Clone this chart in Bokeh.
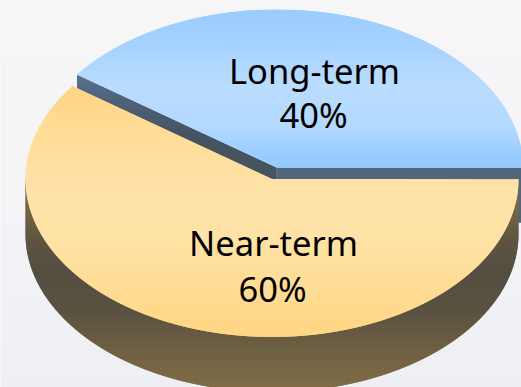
import math
import numpy as np
from bokeh.core.properties import value
from bokeh.embed import file_html
from bokeh.models import ColumnDataSource, Range1d
from bokeh.plotting import figure
from bokeh.resources import INLINE

# Chart data
terms = ["Long-term", "Near-term"]
shares = [40, 60]

# Tilted-disc geometry, in page pixels
WIDTH, HEIGHT = 521, 387
RX, RY = 246.5, 158.0
NEAR_CENTRE = (271.5, 178.5)
LONG_CENTRE = (276.0, 167.0)
DEPTH = 55.0

# Vertical colour ramps: (row, colour)
LONG_TOP = [(10, "#99ccff"), (45, "#a6d2ff"), (85, "#badcff"), (125, "#b4d9ff"), (155, "#99ccff"), (167, "#96caff")]
NEAR_TOP = [(85, "#ffd484"), (130, "#ffdc97"), (190, "#ffe2a8"), (235, "#ffe2a6"), (290, "#ffdc94"), (337, "#ffd580")]
NEAR_WALL = [(178, "#8a7549"), (205, "#7a6845"), (240, "#5e5540"), (270, "#554e40"), (310, "#5a5240"), (350, "#6f6143"), (388, "#816c46")]
LONG_FACE = [(75, "#587494"), (100, "#4f6278"), (135, "#465462"), (178, "#475460")]
LONG_EAST = [(167, "#526780"), (222, "#4f657f")]


def ramp(stops, y):
    rows = [s[0] for s in stops]
    rgb = [[int(s[1][i:i + 2], 16) for i in (1, 3, 5)] for s in stops]
    return "#%02x%02x%02x" % tuple(int(round(np.interp(y, rows, [c[k] for c in rgb]))) for k in range(3))


def wedge(centre, start, end):
    """Outline of a slice on the tilted disc, angles in degrees counter-clockwise from east."""
    cx, cy = centre
    angles = np.radians(np.linspace(start, end, 361))
    return [(cx, cy)] + [(cx + RX * math.cos(a), cy - RY * math.sin(a)) for a in angles]


def span(poly, y):
    """Leftmost and rightmost crossing of a closed outline with a horizontal line."""
    xs = []
    for (x0, y0), (x1, y1) in zip(poly, poly[1:] + poly[:1]):
        if y0 == y1:
            if y0 == y:
                xs += [x0, x1]
        elif min(y0, y1) <= y <= max(y0, y1):
            xs.append(x0 + (y - y0) * (x1 - x0) / (y1 - y0))
    return (min(xs), max(xs)) if xs else None


def draw_banded(fig, poly, stops):
    """Fill an outline as rows with a vertical colour ramp; each row runs under the next so no seams show."""
    top = int(math.floor(min(p[1] for p in poly)))
    bottom = int(math.ceil(max(p[1] for p in poly)))
    band_x, band_y, colours = [], [], []
    for row in range(top, min(bottom, HEIGHT)):
        left, right, rows = [], [], []
        for y in np.linspace(row, row + 2, 9):
            s = span(poly, float(y))
            if s:
                left.append(s[0])
                right.append(s[1])
                rows.append(float(y))
        if len(rows) < 2:
            continue
        band_x.append(left + right[::-1])
        band_y.append(rows + rows[::-1])
        colours.append(ramp(stops, row + 0.5))
    source = ColumnDataSource(dict(x=band_x, y=band_y, c=colours))
    fig.patches("x", "y", source=source, fill_color="c", fill_alpha=1.0, line_color=None)


p = figure(width=WIDTH, height=HEIGHT, output_backend="svg", toolbar_location=None,
           x_range=Range1d(0, WIDTH), y_range=Range1d(HEIGHT, 0), min_border=0)
p.axis.visible = False
p.grid.visible = False
p.outline_line_color = None
p.background_fill_color = "#f5f5f8"
p.border_fill_color = "#f5f5f8"

total = sum(shares)
long_end = 360.0 * shares[0] / total

# Pale backdrop that cools slightly towards the foot of the page
backdrop_y = list(range(0, HEIGHT, 8))
p.quad(left=0, right=WIDTH, top=backdrop_y, bottom=[y + 9 for y in backdrop_y],
       fill_color=[ramp([(0, "#f6f6f7"), (200, "#f4f4f7"), (387, "#eeeff4")], y) for y in backdrop_y],
       fill_alpha=1.0, line_color=None)

# Side walls of the long-term slice, pulled slightly out of the disc
lx, ly = LONG_CENTRE
corner_x = lx + RX * math.cos(math.radians(long_end))
corner_y = ly - RY * math.sin(math.radians(long_end))
draw_banded(p, [(corner_x, corner_y), (lx, ly), (lx, ly + DEPTH), (corner_x, corner_y + DEPTH)], LONG_FACE)
draw_banded(p, [(lx, ly), (lx + RX, ly), (lx + RX, ly + DEPTH), (lx, ly + DEPTH)], LONG_EAST)

# Rim of the near-term slice
nx, ny = NEAR_CENTRE
rim = [(nx - RX, ny), (nx + RX, ny)]
rim += [(nx + RX * math.cos(a), ny + DEPTH + RY * math.sin(a)) for a in np.radians(np.linspace(0, 180, 361))]
draw_banded(p, rim, NEAR_WALL)

# Top faces of the two slices
draw_banded(p, wedge(NEAR_CENTRE, long_end, 360.0), NEAR_TOP)
draw_banded(p, wedge(LONG_CENTRE, 0.0, long_end), LONG_TOP)

# Slice captions
label_x = [314, 313, 273, 272]
label_y = [70, 114, 242, 288]
label_text = [terms[0], f"{shares[0]}%", terms[1], f"{shares[1]}%"]
p.text(x=label_x, y=label_y, text=label_text, text_align="center", text_baseline="alphabetic",
       text_font=value("Noto Sans"), text_font_size="34.5px", text_color="#000000", text_alpha=1.0)

open("out.html", "w").write(file_html(p, INLINE))
